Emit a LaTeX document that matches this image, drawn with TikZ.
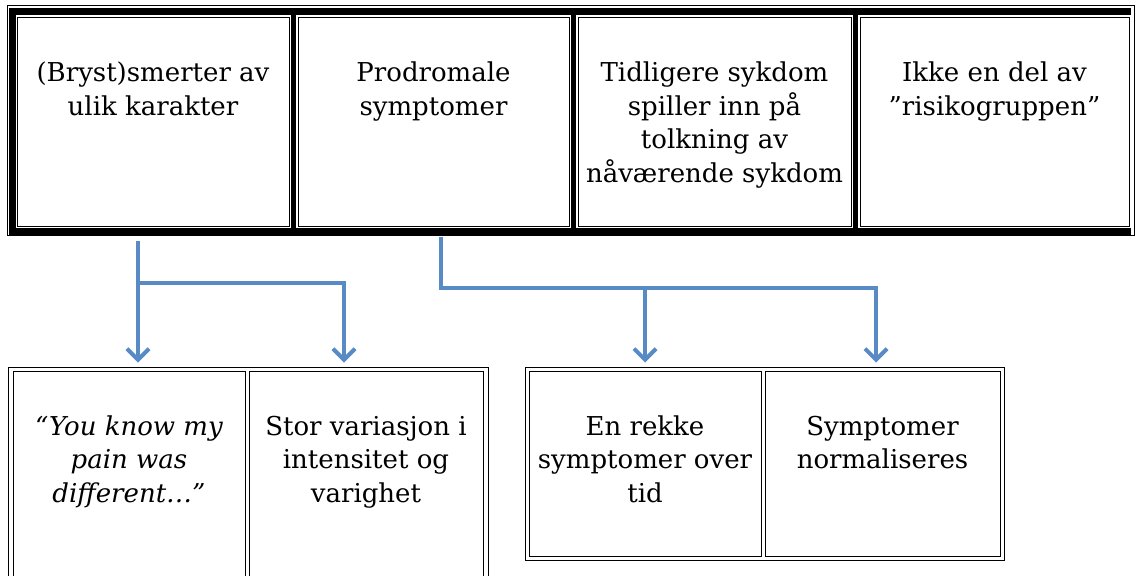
\documentclass[tikz,border=0pt]{standalone}
\usepackage{fontspec}
\setmainfont{DejaVu Serif}
\usetikzlibrary{arrows.meta}
\usetikzlibrary{positioning}

\definecolor{flowblue}{RGB}{88,139,197}

\begin{document}
\begin{tikzpicture}[x=1pt, y=-1pt,
        cell_style/.style={draw=black, line width=1pt, inner sep=0pt, minimum height=209pt},
        low_cell_style/.style={draw=black, line width=1pt, inner sep=0pt},
        text_style/.style={align=center, inner sep=0pt, font=\fontsize{26}{33.5}\selectfont, execute at begin node=\strut},
        quote_style/.style={text_style, font=\fontsize{26}{33.5}\selectfont\itshape},
        frame_style/.style={draw=black, line width=1pt},
        rule_style/.style={draw=black, line width=6pt},
        flow_style/.style={draw=flowblue, line width=4pt, -{Straight Barb[length=11pt,width=22pt]}, shorten >=8pt}]

        \clip (0,0) rectangle (1136,576);

        % top row
        \node [cell_style, minimum width=272pt](c1) at (153,121.5) {};
        \node [cell_style, minimum width=271pt](c2) at (433.5,121.5) {};
        \node [cell_style, minimum width=273pt](c3) at (714.5,121.5) {};
        \node [cell_style, minimum width=269pt](c4) at (994.5,121.5) {};
        \draw [rule_style, line width=7pt] (1131,11.5) -- (12,11.5) -- (12,231) -- (1131,231);
        \foreach \x in {293.5,573.5,855.5}
            \draw [rule_style, line width=5pt] (\x,11.5) -- (\x,231);
        \draw [frame_style] (7.5,5.5) rectangle (1134,235.5);

        \node [text_style, below=45.5pt of c1.north](t1) {(Bryst)smerter av\\ulik karakter};
        \node [text_style, below=45.5pt of c2.north](t2) {Prodromale\\symptomer};
        \node [text_style, below=45.5pt of c3.north](t3) {Tidligere sykdom\\spiller inn på\\tolkning av\\nåværende sykdom};
        \node [text_style, below=45.5pt of c4.north](t4) {Ikke en del av\\”risikogruppen”};

        % bottom row
        \draw [frame_style] (8,367) rectangle (488,600);
        \node [low_cell_style, minimum width=232pt, minimum height=229pt](b1) at (129,485.5) {};
        \node [low_cell_style, minimum width=234pt, minimum height=229pt](b2) at (366,485.5) {};
        \draw [frame_style] (525,367) rectangle (1004,560);
        \node [low_cell_style, minimum width=232pt, minimum height=185pt](b3) at (645,463.5) {};
        \node [low_cell_style, minimum width=235pt, minimum height=185pt](b4) at (882.5,463.5) {};

        \node [quote_style, below=45pt of b1.north](t5) {“You know my\\pain was\\different…”};
        \node [text_style, below=45pt of b2.north](t6) {Stor variasjon i\\intensitet og\\varighet};
        \node [text_style, below=45pt of b3.north](t7) {En rekke\\symptomer over\\tid};
        \node [text_style, below=45pt of b4.north](t8) {Symptomer\\normaliseres};

        % connectors
        \coordinate (j1) at (138,283);
        \coordinate (j2) at (344,283);
        \coordinate (j3) at (441,288);
        \coordinate (j4) at (876,288);
        \draw [flow_style, shorten <=14pt] (j1 |- c1.south) -- (j1 |- b1.north);
        \draw [flow_style] (j1) -- (j2) -- (j2 |- b2.north);
        \draw [flow_style, shorten <=10pt] (j3 |- c2.south) -- (j3) -- (j4) -- (j4 |- b4.north);
        \draw [flow_style] (b3.north |- j3) -- (b3.north);
        \end{tikzpicture}
\end{document}
